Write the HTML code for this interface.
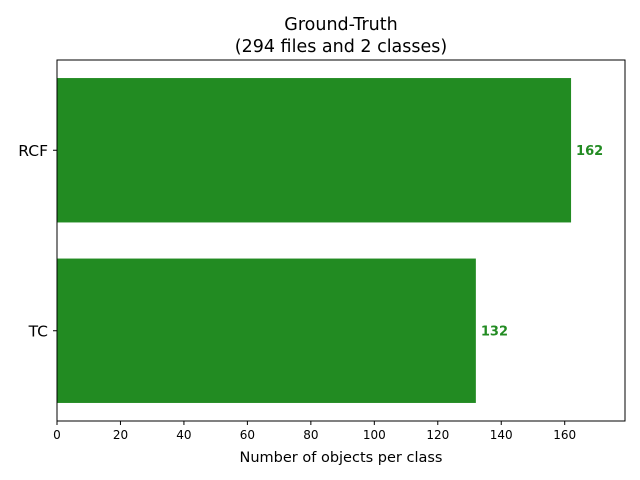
<!DOCTYPE html>
<html><head><meta charset="utf-8"><style>body{margin:0;background:#fff}svg{display:block;font-family:"DejaVu Sans","Liberation Sans",sans-serif}</style></head>
<body>
<svg id="chart" width="640" height="480">
<text x="341" y="30" text-anchor="middle" font-size="17.5">Ground-Truth</text>
<text x="341" y="52" text-anchor="middle" font-size="17.5">(294 files and 2 classes)</text>
<text x="341" y="462" text-anchor="middle" font-size="14.5">Number of objects per class</text>
<g id="marks"></g>
<rect x="57" y="60" width="568" height="361" fill="none" stroke="#000" stroke-width="1"/>
</svg>
<script>
const categories = ["TC", "RCF"];
const values = [132, 162];
const xTicks = [0, 20, 40, 60, 80, 100, 120, 140, 160];
const X0 = 57, X1 = 625, Y0 = 60, Y1 = 421, XMAX = 179;
const ns = "http://www.w3.org/2000/svg";
const g = document.getElementById("marks");
function xs(v){return X0 + v/XMAX*(X1-X0);}
function ys(i){return Y1 - (i+0.5)/categories.length*(Y1-Y0);}
function mk(t, a){const e=document.createElementNS(ns,t);for(const k in a)e.setAttribute(k,a[k]);g.appendChild(e);return e;}
const band = (Y1-Y0)/categories.length;
categories.forEach((c,i)=>{
  const y=ys(i), h=band*0.8;
  const r=mk("rect",{x:X0,y:y-h/2,width:xs(values[i])-X0,height:h,fill:"#228b22"});
  
  
  const v=mk("text",{x:xs(values[i])+5,y:y+4.5,"font-size":13,"font-weight":"bold",fill:"#228b22"});
  v.textContent=values[i];
  
  
  const tk=mk("line",{x1:X0-4,x2:X0,y1:y,y2:y,stroke:"#000"});
  
  
  const l=mk("text",{x:X0-9,y:y+5.5,"font-size":15.5,"text-anchor":"end"});
  l.textContent=c;
  
  
});
xTicks.forEach(t=>{
  const x=xs(t);
  const tk=mk("line",{x1:x,x2:x,y1:Y1,y2:Y1+4,stroke:"#000"});
  
  
  const l=mk("text",{x:x,y:Y1+18,"font-size":12,"text-anchor":"middle"});
  l.textContent=t;
  
  
});
</script>
</body></html>
